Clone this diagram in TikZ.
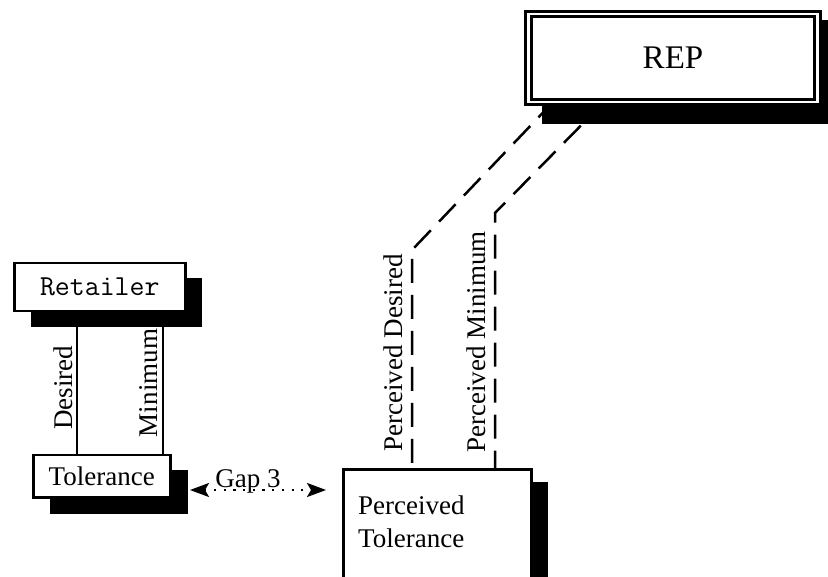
\documentclass[tikz,border=0pt]{standalone}
\usepackage{fontspec}
\setmainfont{Liberation Serif}
\usetikzlibrary{arrows.meta}
\begin{document}
\begin{tikzpicture}[x=1pt,y=-1pt,
  box/.style={draw=black, line width=2.5pt, fill=white, inner sep=0pt, anchor=north west},
  shadowbox/.style={fill=black, draw=none, inner sep=0pt, anchor=north west},
  txt/.style={font=\fontsize{27}{33}\selectfont, inner sep=0pt},
  repbox/.style={anchor=north west, draw=black, fill=white, line width=3pt, double=white,
    double distance=2.5pt, minimum width=289pt, minimum height=88pt, inner sep=0pt},
  solidline/.style={line width=2.5pt},
  dashline/.style={line width=2.5pt, dash pattern=on 24pt off 12pt},
  gaparrow/.style={line width=2.2pt, dash pattern=on 2.2pt off 7.5pt,
    {Stealth[length=19pt,width=14pt,inset=4pt]}-{Stealth[length=19pt,width=14pt,inset=4pt]}}
]
\clip (0,0) rectangle (828,577);
\fill[white] (0,0) rectangle (828,577);

% coordinates for connector bends / free ends
\coordinate (r1) at (555,100);
\coordinate (r2) at (606,100);
\coordinate (b1) at (412,250);
\coordinate (b2) at (495,213);
\coordinate (gl) at (190,490);
\coordinate (gr) at (326,490);

% shadows
\node[shadowbox, minimum width=171pt, minimum height=49pt] (retsh) at (31,278) {};
\node[shadowbox, minimum width=138pt, minimum height=44pt] (tolsh) at (50,470) {};
\node[shadowbox, minimum width=188pt, minimum height=140pt] (ptsh) at (360,482) {};

% boxes
\node[box, minimum width=171pt, minimum height=48pt, font=\ttfamily\fontsize{29}{33}\selectfont] (ret) at (13,262) {Retailer};
\node[box, minimum width=137pt, minimum height=42pt, txt] (tol) at (32,454) {Tolerance};
\node[box, minimum width=188pt, minimum height=140pt] (pt) at (342,468) {};
\node[anchor=north west, txt, align=left] (pttxt) at (358,496) {Perceived\\Tolerance};

% connectors retailer -> tolerance
\draw[solidline] (ret.south -| 77,0) -- (tol.north -| 77,0);
\draw[solidline] (retsh.south -| 163,0) -- (tol.north -| 163,0);
\node[txt, rotate=90, anchor=south] (ldes) at (73,388) {Desired};
\node[txt, rotate=90, anchor=south] (lmin) at (158,383) {Minimum};

% dashed connectors REP -> perceived tolerance
\draw[dashline] (r1) -- (b1) -- (b1 |- pt.north);
\draw[dashline] (r2) -- (b2) -- (b2 |- pt.north);
\node[txt, rotate=90, anchor=south] (lpdes) at (403,353) {Perceived Desired};
\node[txt, rotate=90, anchor=south] (lpmin) at (486,342) {Perceived Minimum};

% REP box with shadow
\node[shadowbox, minimum width=300pt, minimum height=104pt] (repsh) at (542,20) {};
\node[repbox] (rep) at (527,12.5) {};
\node[txt, font=\fontsize{33}{38}\selectfont] (reptxt) at (rep.center) {REP};

% gap arrow
\draw[gaparrow] (gl) -- (gr);
\node[txt, anchor=base] (gap) at (248,487) {Gap 3};
\end{tikzpicture}
\end{document}
